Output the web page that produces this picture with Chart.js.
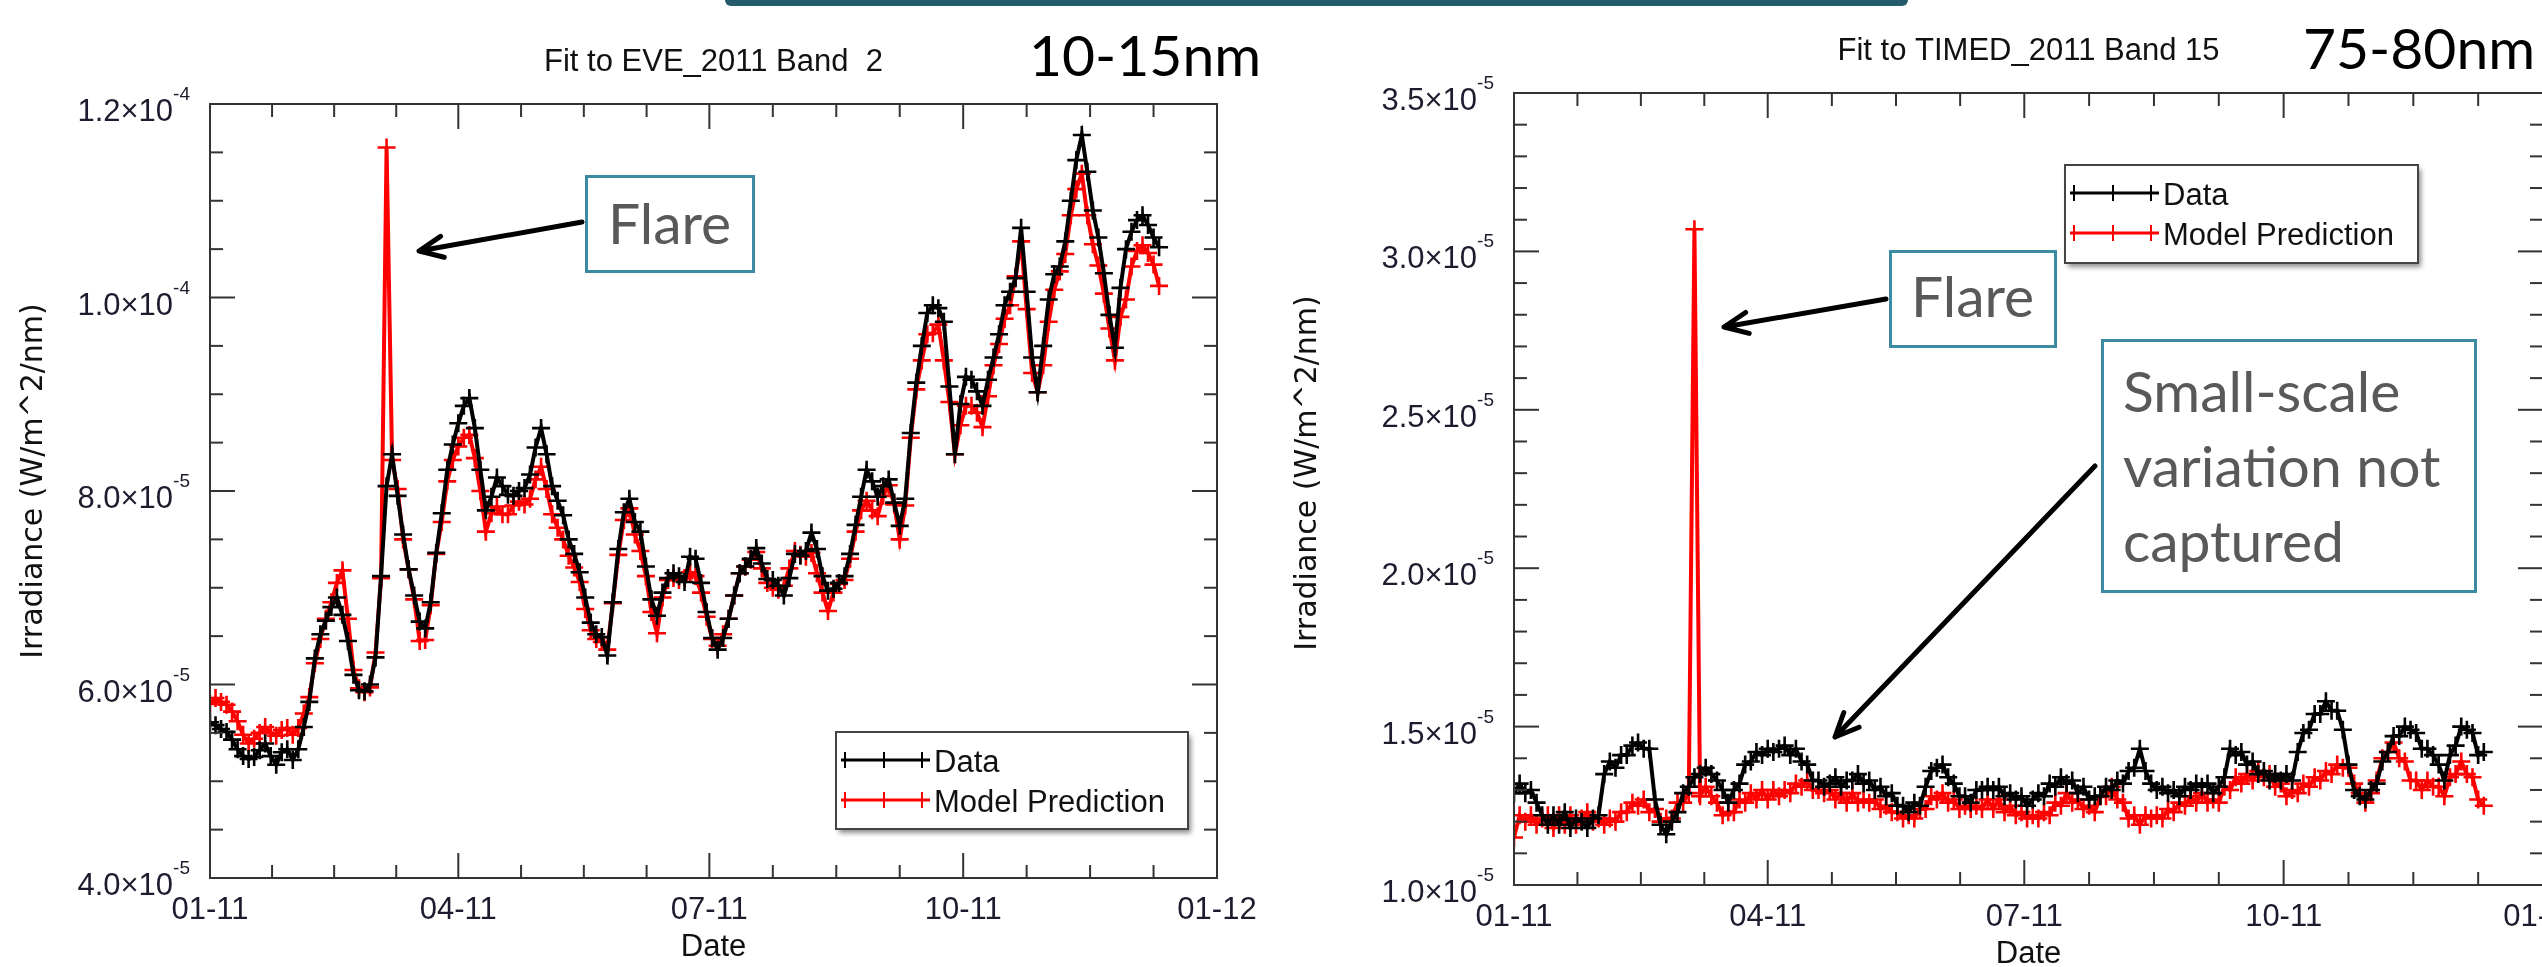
<!DOCTYPE html>
<html>
<head>
<meta charset="utf-8">
<script src="https://cdn.jsdelivr.net/npm/chart.js@4.4.0/dist/chart.umd.min.js"></script>
<style>
  html, body { margin: 0; padding: 0; background: #fff; overflow: hidden; }
  #wrap { position: relative; width: 2542px; height: 967px; overflow: hidden; background: #fff; }
  canvas { position: absolute; top: 0; }
  #c1 { left: 0; }
  #c2 { left: 1270px; }
  .topbar { position: absolute; left: 725px; top: 0; width: 1183px; height: 6px; background: #245b6a; border-radius: 0 0 6px 6px; }
  .band { position: absolute; font-family: Lato, "Open Sans", sans-serif; font-size: 57px; line-height: 57px; color: #000; white-space: nowrap; }
  .note { position: absolute; box-sizing: border-box; border: 3px solid #3b8ca3; background: #fff; }
  .note span { position: absolute; font-family: Lato, "Open Sans", sans-serif; font-size: 57px; line-height: 57px; color: #595959; white-space: nowrap; }
  svg { position: absolute; left: 0; top: 0; }
</style>
</head>
<body>
<div id="wrap">
  <canvas id="c1" width="1270" height="967"></canvas>
  <canvas id="c2" width="1300" height="967"></canvas>
  <div class="topbar"></div>
  <div class="band" style="left:1029px; top:26px;">10-15nm</div>
  <div class="band" style="left:2303px; top:19px;">75-80nm</div>
  <div class="note" style="left:585px; top:175px; width:170px; height:98px;"><span style="left:20px; top:16px;">Flare</span></div>
  <div class="note" style="left:1889px; top:250px; width:168px; height:98px;"><span style="left:19px; top:14px;">Flare</span></div>
  <div class="note" style="left:2101px; top:339px; width:376px; height:254px;">
    <span style="left:19px; top:11px; line-height:75px;">Small-scale<br>variation not<br>captured</span>
  </div>
  <svg id="arrows" width="2542" height="967"></svg>
</div>
<script>
// ---- sample days (day of year 2011, 0 = Jan 1) ----
const days = [0,2,4,6,8,10,12,14,16,18,20,22,24,26,28,30,32,34,36,38,40,42,44,46,48,50,52,54,56,58,
  60,62,64,66,68,70,72,74,76,78,80,82,84,86,88,90,92,94,96,98,100,102,104,106,108,110,112,114,116,118,
  120,122,124,126,128,130,132,134,136,138,140,142,144,146,148,150,152,154,156,158,160,162,164,166,168,170,172,174,176,178,
  180,182,184,186,188,190,192,194,196,198,200,202,204,206,208,210,212,214,216,218,220,222,224,226,228,230,232,234,236,238,
  240,242,244,246,248,250,252,254,256,258,260,262,264,266,268,270,272,274,276,278,280,282,284,286,288,290,292,294,296,298,
  300,302,304,306,308,310,312,314,316,318,320,322,324,326,328,330,332,334,336,338,340,342,344];

// ---- EVE band 2 (10-15nm), units of 1e-5 W/m^2/nm ----
const eveData = [5.61,5.58,5.54,5.51,5.43,5.33,5.26,5.23,5.25,5.32,
  5.39,5.26,5.17,5.30,5.33,5.22,5.33,5.56,5.82,6.27,
  6.52,6.66,6.80,6.90,6.72,6.45,6.10,5.94,5.93,6.00,
  6.28,7.12,8.05,8.38,7.95,7.55,7.19,6.92,6.65,6.58,
  6.85,7.36,7.77,8.22,8.48,8.70,8.88,8.96,8.65,8.22,
  7.80,7.94,8.14,8.05,7.96,7.95,8.00,8.03,8.17,8.45,
  8.65,8.38,8.05,7.90,7.75,7.50,7.35,7.16,6.90,6.64,
  6.52,6.49,6.30,6.85,7.40,7.78,7.92,7.68,7.58,7.22,
  6.88,6.71,6.95,7.10,7.15,7.12,7.06,7.32,7.30,7.05,
  6.75,6.48,6.36,6.48,6.68,6.92,7.15,7.22,7.30,7.41,
  7.25,7.09,7.08,7.02,6.92,7.10,7.35,7.33,7.38,7.57,
  7.40,7.12,6.97,6.99,7.05,7.12,7.35,7.65,7.94,8.22,
  8.10,7.94,8.05,8.12,7.88,7.64,7.92,8.60,9.12,9.50,
  9.84,9.92,9.89,9.75,9.08,8.38,8.90,9.18,9.15,9.03,
  8.88,9.15,9.38,9.62,9.92,10.06,10.20,10.72,10.06,9.38,
  9.02,9.50,9.98,10.24,10.32,10.58,11.00,11.42,11.68,11.30,
  10.90,10.62,10.25,9.82,9.48,10.10,10.50,10.68,10.80,10.85,
  10.75,10.62,10.52];
const eveModel = [5.80,5.86,5.82,5.79,5.72,5.62,5.48,5.39,5.44,5.50,
  5.56,5.50,5.47,5.53,5.55,5.48,5.55,5.70,5.87,6.22,
  6.47,6.68,6.85,7.05,7.18,6.68,6.15,5.96,5.92,5.97,
  6.33,7.10,11.55,8.32,8.02,7.50,7.19,6.88,6.45,6.46,
  6.82,7.35,7.68,8.10,8.32,8.46,8.55,8.58,8.34,8.00,
  7.58,7.77,7.84,7.76,7.76,7.85,7.89,7.86,7.92,8.12,
  8.25,8.02,7.76,7.62,7.50,7.33,7.21,7.06,6.78,6.56,
  6.47,6.44,6.36,6.84,7.34,7.70,7.82,7.55,7.38,7.12,
  6.75,6.53,6.90,7.08,7.10,7.08,7.10,7.16,7.12,6.95,
  6.70,6.47,6.40,6.52,6.68,6.92,7.15,7.22,7.29,7.37,
  7.20,7.05,7.00,6.98,7.02,7.20,7.38,7.34,7.32,7.36,
  7.15,6.95,6.76,6.95,7.04,7.08,7.30,7.58,7.80,7.90,
  7.80,7.74,7.95,8.06,7.86,7.50,7.85,8.55,9.05,9.35,
  9.62,9.63,9.72,9.35,8.92,8.38,8.68,8.88,8.88,8.81,
  8.66,8.98,9.30,9.52,9.78,9.92,10.22,10.58,9.88,9.22,
  9.02,9.30,9.75,10.08,10.27,10.45,10.85,11.12,11.28,10.85,
  10.55,10.33,10.04,9.68,9.35,9.80,9.98,10.32,10.48,10.54,
  10.46,10.34,10.12];

// ---- TIMED band 15 (75-80nm), units of 1e-5 W/m^2/nm ----
const timedData = [1.29,1.32,1.29,1.30,1.26,1.22,1.19,1.22,1.19,1.23,
  1.18,1.21,1.20,1.18,1.21,1.22,1.35,1.39,1.37,1.41,
  1.41,1.44,1.45,1.43,1.43,1.27,1.19,1.16,1.20,1.23,
  1.29,1.31,1.34,1.35,1.37,1.35,1.33,1.30,1.26,1.30,
  1.32,1.38,1.39,1.42,1.41,1.43,1.42,1.43,1.44,1.41,
  1.43,1.39,1.38,1.33,1.33,1.31,1.32,1.34,1.31,1.33,
  1.33,1.35,1.32,1.33,1.30,1.31,1.28,1.29,1.25,1.25,
  1.23,1.26,1.25,1.31,1.36,1.37,1.38,1.34,1.32,1.28,
  1.28,1.26,1.30,1.30,1.31,1.30,1.31,1.28,1.29,1.27,
  1.28,1.25,1.27,1.29,1.28,1.32,1.31,1.34,1.32,1.33,
  1.29,1.31,1.27,1.28,1.28,1.31,1.30,1.33,1.32,1.36,
  1.37,1.43,1.36,1.32,1.30,1.31,1.29,1.30,1.28,1.31,
  1.30,1.32,1.31,1.32,1.29,1.31,1.34,1.43,1.41,1.42,
  1.38,1.39,1.35,1.36,1.33,1.35,1.33,1.35,1.33,1.42,
  1.48,1.49,1.54,1.54,1.58,1.55,1.55,1.49,1.38,1.30,
  1.28,1.27,1.30,1.32,1.39,1.42,1.47,1.47,1.50,1.49,
  1.48,1.43,1.43,1.41,1.38,1.33,1.41,1.44,1.50,1.49,
  1.48,1.41,1.42];
const timedModel = [1.15,1.22,1.20,1.22,1.19,1.21,1.22,1.18,1.22,1.19,
  1.22,1.19,1.21,1.23,1.20,1.21,1.19,1.21,1.20,1.23,
  1.23,1.26,1.25,1.27,1.23,1.24,1.20,1.21,1.21,1.26,
  1.26,1.29,3.07,1.28,1.31,1.28,1.26,1.22,1.23,1.23,
  1.27,1.26,1.29,1.27,1.30,1.27,1.30,1.28,1.30,1.29,
  1.32,1.31,1.33,1.30,1.30,1.29,1.30,1.27,1.29,1.26,
  1.29,1.26,1.27,1.26,1.27,1.24,1.25,1.23,1.23,1.21,
  1.22,1.21,1.24,1.24,1.28,1.27,1.29,1.26,1.27,1.24,
  1.25,1.24,1.25,1.24,1.27,1.24,1.27,1.23,1.25,1.22,
  1.23,1.21,1.22,1.21,1.23,1.22,1.26,1.25,1.29,1.26,
  1.27,1.24,1.25,1.23,1.28,1.28,1.31,1.27,1.26,1.21,
  1.22,1.19,1.22,1.21,1.22,1.21,1.24,1.23,1.26,1.25,
  1.28,1.26,1.29,1.26,1.27,1.26,1.31,1.30,1.34,1.32,
  1.35,1.33,1.36,1.34,1.35,1.31,1.32,1.28,1.30,1.29,
  1.32,1.31,1.34,1.33,1.36,1.35,1.38,1.37,1.37,1.32,
  1.29,1.26,1.29,1.33,1.40,1.42,1.45,1.40,1.39,1.33,
  1.33,1.30,1.33,1.31,1.31,1.28,1.34,1.35,1.39,1.35,
  1.34,1.27,1.25];

// ---- axis ticks ----
const monthTicks = [0, 90, 181, 273, 365];
const monthLabels = ['01-11', '04-11', '07-11', '10-11', '01-12'];
const eveYTicks = [4, 6, 8, 10, 12];
const eveYLabels = ['4.0×10^-5', '6.0×10^-5', '8.0×10^-5', '1.0×10^-4', '1.2×10^-4'];
const timedYTicks = [1.0, 1.5, 2.0, 2.5, 3.0, 3.5];
const timedYLabels = ['1.0×10^-5', '1.5×10^-5', '2.0×10^-5', '2.5×10^-5', '3.0×10^-5', '3.5×10^-5'];

const LABEL_FONT = '"Liberation Sans", Arial, sans-serif';
const INK = '#1c1c2e';

// frame, inward ticks on all four sides, labels, titles and legend
const framePlugin = {
  id: 'frame',
  afterDraw(chart, args, o) {
    const { ctx, chartArea: a, scales: { x, y } } = chart;
    ctx.save();
    ctx.strokeStyle = '#333';
    ctx.lineWidth = 2;
    ctx.strokeRect(a.left, a.top, a.right - a.left, a.bottom - a.top);

    const tick = (x1, y1, x2, y2) => { ctx.beginPath(); ctx.moveTo(x1, y1); ctx.lineTo(x2, y2); ctx.stroke(); };

    // x ticks (4 minor intervals per quarter)
    for (let i = 0; i < monthTicks.length; i++) {
      const px = x.getPixelForValue(monthTicks[i]);
      tick(px, a.bottom, px, a.bottom - 25);
      tick(px, a.top, px, a.top + 25);
      if (i < monthTicks.length - 1) {
        for (let k = 1; k < 4; k++) {
          const v = monthTicks[i] + k * (monthTicks[i + 1] - monthTicks[i]) / 4;
          const mx = x.getPixelForValue(v);
          tick(mx, a.bottom, mx, a.bottom - 13);
          tick(mx, a.top, mx, a.top + 13);
        }
      }
    }
    // y ticks
    const yt = o.yTicks;
    for (let i = 0; i < yt.length; i++) {
      const py = y.getPixelForValue(yt[i]);
      tick(a.left, py, a.left + 25, py);
      tick(a.right, py, a.right - 25, py);
      if (i < yt.length - 1) {
        for (let k = 1; k < o.yMinor; k++) {
          const my = y.getPixelForValue(yt[i] + k * (yt[i + 1] - yt[i]) / o.yMinor);
          tick(a.left, my, a.left + 13, my);
          tick(a.right, my, a.right - 13, my);
        }
      }
    }

    // x tick labels
    ctx.fillStyle = INK;
    ctx.font = '31px ' + LABEL_FONT;
    ctx.textAlign = 'center';
    ctx.textBaseline = 'alphabetic';
    monthTicks.forEach((v, i) => {
      ctx.fillText(monthLabels[i], x.getPixelForValue(v), a.bottom + 41);
    });

    // y tick labels with superscript exponent
    yt.forEach((v, i) => {
      const [base, exp] = o.yLabels[i].split('^');
      const py = y.getPixelForValue(v);
      const xr = a.left - 20;
      ctx.textAlign = 'right';
      ctx.font = '19px ' + LABEL_FONT;
      const ew = ctx.measureText(exp).width;
      ctx.fillText(exp, xr, py - 4);
      ctx.font = '31px ' + LABEL_FONT;
      ctx.fillText(base, xr - ew, py + 17);
    });

    // titles
    const cx = (a.left + a.right) / 2;
    ctx.fillStyle = '#111';
    ctx.textAlign = 'center';
    ctx.font = '31px ' + LABEL_FONT;
    ctx.fillText(o.title, cx, a.top - 33);
    ctx.fillText('Date', cx, a.bottom + 78);

    ctx.save();
    ctx.translate(o.yTitleX, o.yTitleY);
    ctx.rotate(-Math.PI / 2);
    ctx.font = '30px "DejaVu Sans", Verdana, sans-serif';
    ctx.textBaseline = 'middle';
    ctx.fillText('Irradiance (W/m^2/nm)', 0, 0);
    ctx.restore();

    // legend
    const L = o.legend;
    ctx.save();
    ctx.shadowColor = 'rgba(0,0,0,0.45)';
    ctx.shadowBlur = 5;
    ctx.shadowOffsetX = 3;
    ctx.shadowOffsetY = 4;
    ctx.fillStyle = '#fff';
    ctx.fillRect(L.x, L.y, L.w, L.h);
    ctx.restore();
    ctx.strokeStyle = '#444';
    ctx.lineWidth = 2;
    ctx.strokeRect(L.x, L.y, L.w, L.h);
    chart.data.datasets.forEach((ds, j) => {
      const ly = L.y + 28 + j * 40;
      ctx.strokeStyle = ds.borderColor;
      ctx.lineWidth = 3;
      tick(L.x + 5, ly, L.x + 94, ly);
      ctx.lineWidth = 2;
      [9, 48, 86].forEach(dx => tick(L.x + dx, ly - 8, L.x + dx, ly + 8));
      ctx.fillStyle = '#111';
      ctx.textAlign = 'left';
      ctx.font = '31px ' + LABEL_FONT;
      ctx.fillText(ds.label, L.x + 98, ly + 12);
    });
    ctx.restore();
  }
};

function series(label, values, color) {
  return {
    label: label,
    data: values.map((v, i) => ({ x: days[i], y: v })),
    borderColor: color,
    backgroundColor: color,
    borderWidth: 4,
    pointStyle: 'cross',
    pointRadius: 9,
    pointBorderWidth: 2.6,
    pointBorderColor: color,
    tension: 0
  };
}

function makeChart(id, cfg) {
  return new Chart(document.getElementById(id), {
    type: 'line',
    data: { datasets: [series('Data', cfg.data, '#000'), series('Model Prediction', cfg.model, '#ff0000')] },
    options: {
      responsive: false,
      animation: false,
      devicePixelRatio: 1,
      layout: { padding: cfg.pad },
      plugins: { legend: { display: false }, tooltip: { enabled: false }, frame: cfg.frame },
      scales: {
        x: {
          type: 'linear', min: 0, max: 365,
          grid: { display: false }, border: { display: false }, ticks: { display: false },
          afterFit: s => { s.height = 0; }
        },
        y: {
          type: 'linear', min: cfg.yMin, max: cfg.yMax,
          grid: { display: false }, border: { display: false }, ticks: { display: false },
          afterFit: s => { s.width = 0; }
        }
      }
    },
    plugins: [framePlugin]
  });
}

makeChart('c1', {
  data: eveData, model: eveModel, yMin: 4, yMax: 12,
  pad: { left: 210, right: 53, top: 104, bottom: 89 },
  frame: {
    title: 'Fit to EVE_2011 Band  2', yTicks: eveYTicks, yLabels: eveYLabels, yMinor: 4,
    yTitleX: 34, yTitleY: 481,
    legend: { x: 836, y: 732, w: 352, h: 97 }
  }
});

makeChart('c2', {
  data: timedData, model: timedModel, yMin: 1.0, yMax: 3.5,
  pad: { left: 244, right: 27, top: 93, bottom: 82 },
  frame: {
    title: 'Fit to TIMED_2011 Band 15', yTicks: timedYTicks, yLabels: timedYLabels, yMinor: 5,
    yTitleX: 38, yTitleY: 473,
    legend: { x: 795, y: 165, w: 353, h: 98 }
  }
});

// callout arrows (tail -> tip)
function arrowPath(x1, y1, x2, y2) {
  const ang = Math.atan2(y1 - y2, x1 - x2), len = 26, spread = 0.42;
  const p1 = [x2 + len * Math.cos(ang + spread), y2 + len * Math.sin(ang + spread)];
  const p2 = [x2 + len * Math.cos(ang - spread), y2 + len * Math.sin(ang - spread)];
  return `M${x1},${y1} L${x2},${y2} M${p1[0]},${p1[1]} L${x2},${y2} L${p2[0]},${p2[1]}`;
}
const arrows = [[582, 222, 419, 251], [1886, 299, 1724, 327], [2095, 466, 1835, 737]];
document.getElementById('arrows').innerHTML = arrows.map(a =>
  `<path d="${arrowPath(...a)}" fill="none" stroke="#000" stroke-width="5" stroke-linecap="round" stroke-linejoin="round"/>`
).join('');
</script>
</body>
</html>
